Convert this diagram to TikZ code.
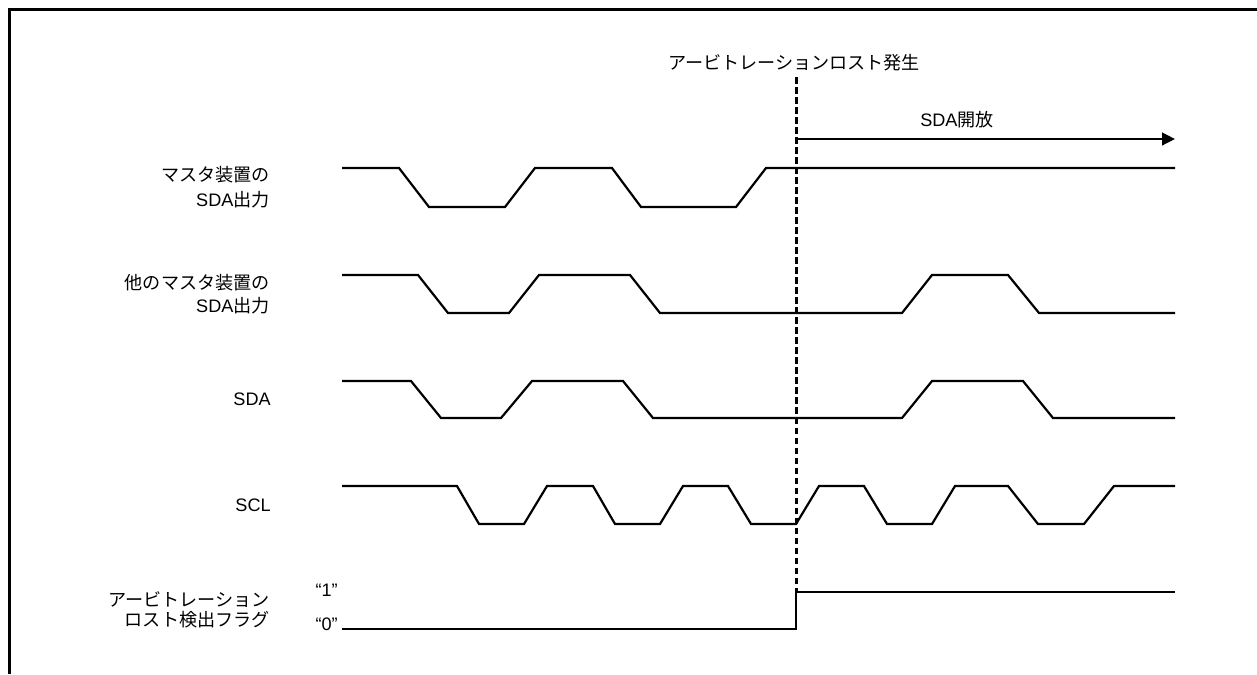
\documentclass[tikz,border=0pt]{standalone}
\usepackage{fontspec}
\setmainfont{Liberation Sans}
\newfontfamily\jpfont{Noto Sans CJK JP}
\usetikzlibrary{arrows.meta}
\def\sigfont#1{\fontsize{10.3}{#1}\selectfont}

\begin{document}
\begin{tikzpicture}[x=0.02cm, y=-0.02cm,
		every node/.style={inner sep=0pt, font=\sigfont{12}},
		wave/.style={line width=1.25pt, line join=miter},
		siglabel/.style={anchor=east, align=right},
		lostline/.style={line width=1.7pt, dash pattern=on 3.8pt off 1.9pt}]
			%%%%% START %%%%%
			
			\useasboundingbox (0, 0) rectangle (1257, 674);
			\draw[line width=1.7pt] (9.5, 674) -- (9.5, 9.5) -- (1257, 9.5);
			
			% signal names
			\node[siglabel, font=\sigfont{14.2}] (lblmaster) at (270, 187.5) {{\jpfont マスタ装置の}\\SDA{\jpfont 出力}};
			\node[siglabel, font=\sigfont{13}] (lblother) at (270, 294) {{\jpfont 他のマスタ装置の}\\SDA{\jpfont 出力}};
			\node[siglabel] (lblsda) at (271, 399.5) {SDA};
			\node[siglabel] (lblscl) at (271, 505) {SCL};
			\node[siglabel, font=\sigfont{11.3}] (lblflag) at (270, 610) {{\jpfont アービトレーション}\\{\jpfont ロスト検出フラグ}};
			\node[anchor=east, font=\sigfont{12}] (lvlone) at (338, 590) {“1”};
			\node[anchor=east] (lvlzero) at (338, 624) {“0”};
			
			% master SDA out
			\draw[wave] (342, 168) -- (399, 168) -- (429, 207) -- (505, 207) -- (535, 168) -- (612, 168) -- (641, 207) -- (736, 207) -- (766, 168) -- (1175, 168);
			
			% other master SDA out
			\draw[wave] (342, 275) -- (418, 275) -- (448, 313) -- (509, 313) -- (539, 275) -- (630, 275) -- (660, 313) -- (902, 313) -- (932, 275) -- (1008, 275) -- (1039, 313) -- (1175, 313);
			
			% SDA
			\draw[wave] (342, 381) -- (411, 381) -- (441, 418) -- (501, 418) -- (532, 381) -- (623, 381) -- (653, 418) -- (902, 418) -- (932, 381) -- (1023, 381) -- (1053, 418) -- (1175, 418);
			
			% SCL
			\draw[wave] (342, 486) -- (457, 486) -- (479, 524) -- (524, 524) -- (547, 486) -- (593, 486) -- (615, 524) -- (660, 524) -- (683, 486) -- (728, 486) -- (751, 524) -- (796, 524) -- (819, 486) -- (864, 486) -- (887, 524) -- (932, 524) -- (955, 486) -- (1008, 486) -- (1038, 524) -- (1084, 524) -- (1114, 486) -- (1175, 486);
			
			% lost flag
			\draw[wave] (342, 629) -- (796, 629) -- (796, 592) -- (1175, 592);
			
			% arbitration lost
			\node (lost) at (794, 63) {\jpfont アービトレーションロスト発生};
			\draw[lostline] (796, 77) -- (796, 592);
			\node (release) at (957, 120) {SDA{\jpfont 開放}};
			\draw[line width=1.25pt, -{Triangle[length=7.4pt, width=7.2pt]}] (796, 139) -- (1175, 139);
			
			%%%%% END %%%%%
		\end{tikzpicture}
\end{document}
